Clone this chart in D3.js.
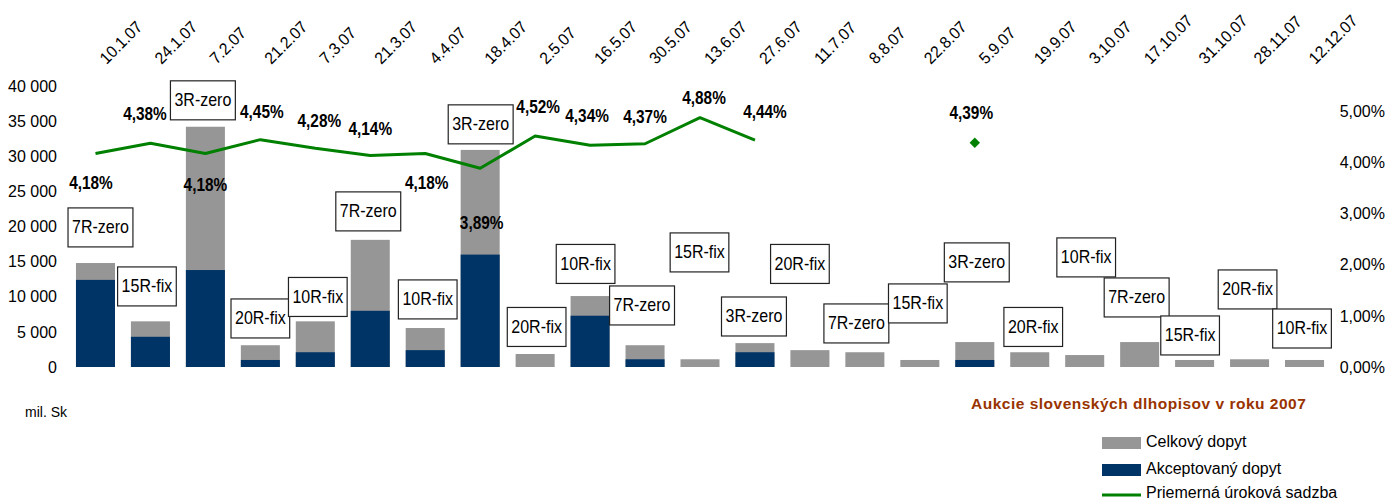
<!DOCTYPE html>
<html>
<head>
<meta charset="utf-8">
<script src="https://cdn.jsdelivr.net/npm/d3@7"></script>
<style>
  body { margin: 0; background: #fff; }
  svg text { font-family: "Liberation Sans", Arial, sans-serif; }
</style>
</head>
<body>
<svg id="chart" width="1390" height="501"></svg>
<script>
// DATA
const dates = ["10.1.07","24.1.07","7.2.07","21.2.07","7.3.07","21.3.07","4.4.07","18.4.07",
  "2.5.07","16.5.07","30.5.07","13.6.07","27.6.07","11.7.07","8.8.07","22.8.07","5.9.07",
  "19.9.07","3.10.07","17.10.07","31.10.07","28.11.07","12.12.07"];
const totalDemand = [14800, 6500, 34200, 3100, 6500, 18100, 5550, 30900, 1850, 10100, 3100, 1100,
  3400, 2400, 2100, 1000, 3550, 2100, 1700, 3550, 1000, 1100, 1000];
const acceptedDemand = [12400, 4300, 13800, 1000, 2100, 8000, 2400, 16000, 0, 7300, 1100, 0,
  2100, 0, 0, 0, 1000, 0, 0, 0, 0, 0, 0];
const avgRate = [4.18, 4.38, 4.18, 4.45, 4.28, 4.14, 4.18, 3.89, 4.52, 4.34, 4.37, 4.88, 4.44,
  null, null, null, 4.39, null, null, null, null, null, null];
const bondType = ["7R-zero","15R-fix","3R-zero","20R-fix","10R-fix","7R-zero","10R-fix","3R-zero",
  "20R-fix","10R-fix","7R-zero","15R-fix","3R-zero","20R-fix","7R-zero","15R-fix","3R-zero",
  "20R-fix","10R-fix","7R-zero","15R-fix","20R-fix","10R-fix"];
const leftTicks = [0, 5000, 10000, 15000, 20000, 25000, 30000, 35000, 40000];
const rightTicks = [0, 1, 2, 3, 4, 5];
const seriesNames = ["Celkový dopyt", "Akceptovaný dopyt", "Priemerná úroková sadzba"];
const title = "Aukcie slovenských dlhopisov v roku 2007";
const unitLabel = "mil. Sk";

// label placement (annotation layout, not data)
const boxLevel = [19870, 11470, 37960, 6910, 9970, 22150, 9620, 34540, 5700, 14670, 8760, 16310,
  7190, 14670, 6200, 9050, 14890, 5700, 15600, 9900, 4490, 11040, 5480]; // box centre, in mil. Sk
const boxShift = [5, -3.5, -2.5, 0, 2.5, -2, 2.5, 0.5, 1.5, -4.5, -3, -0.5, -1, -10, -8.5, -2, 2,
  3.5, 1.5, -3, -4.5, -2, -2.5];
const rateLabelShift = [[-4.5, 29], [-5.5, -30], [0, 31], [1.5, -28.5], [4, -28], [0, -27], [1.5, 29],
  [1.5, 54], [3, -29], [-3, -30], [0, -27.5], [4, -20], [10, -28.5], null, null, null, [-3.5, -30]];

const colors = { total: "#969696", accepted: "#003366", rate: "#008000", title: "#993300" };

const svg = d3.select("#chart");
const plot = { left: 68, right: 1332, top: 86, bottom: 367 };

const x = d3.scaleBand()
  .domain(dates)
  .range([plot.left, plot.right])
  .paddingInner(0.29)
  .paddingOuter(0.145);

const y = d3.scaleLinear().domain([0, 40000]).range([plot.bottom, plot.top]);
const y2 = d3.scaleLinear().domain([0, 5.5]).range([plot.bottom, plot.top]);

const fmtThousands = d3.formatLocale({ decimal: ",", thousands: " ", grouping: [3], currency: ["", ""] }).format(",d");
const fmtPct = v => d3.format(".2f")(v).replace(".", ",") + "%";

// left axis
const yAxis = svg.append("g")
  .attr("transform", `translate(${plot.left - 11},0)`)
  .call(d3.axisLeft(y).tickValues(leftTicks).tickFormat(fmtThousands).tickSize(0).tickPadding(0));
yAxis.select(".domain").remove();
yAxis.selectAll("text").attr("font-size", "16px").attr("fill", "#000")
  .style("font-family", '"Liberation Sans", Arial, sans-serif');

// right axis
const y2Axis = svg.append("g")
  .attr("transform", "translate(1385,0)")
  .call(d3.axisLeft(y2).tickValues(rightTicks).tickFormat(fmtPct).tickSize(0).tickPadding(0));
y2Axis.select(".domain").remove();
y2Axis.selectAll("text").attr("font-size", "16px").attr("fill", "#000")
  .style("font-family", '"Liberation Sans", Arial, sans-serif');

// category labels on top, rotated
svg.append("g").selectAll("text")
  .data(dates)
  .enter().append("text")
  .attr("transform", d => `translate(${x(d) + x.bandwidth() / 2 + 11},65) rotate(-45) scale(0.95,1)`)
  .attr("font-size", "16.5px")
  .attr("fill", "#000")
  .text(d => d);

// bars
const bars = svg.append("g");
bars.selectAll(".total")
  .data(dates)
  .enter().append("rect")
  .attr("class", "total")
  .attr("x", d => x(d))
  .attr("width", x.bandwidth())
  .attr("y", (d, i) => y(totalDemand[i]))
  .attr("height", (d, i) => y(0) - y(totalDemand[i]))
  .attr("fill", colors.total);
bars.selectAll(".accepted")
  .data(dates)
  .enter().append("rect")
  .attr("class", "accepted")
  .attr("x", d => x(d))
  .attr("width", x.bandwidth())
  .attr("y", (d, i) => y(acceptedDemand[i]))
  .attr("height", (d, i) => y(0) - y(acceptedDemand[i]))
  .attr("fill", colors.accepted);

// rate line
const cx = i => x(dates[i]) + x.bandwidth() / 2;
const line = d3.line()
  .defined(d => d != null)
  .x((d, i) => cx(i))
  .y(d => y2(d));
svg.append("path")
  .datum(avgRate)
  .attr("d", line)
  .attr("fill", "none")
  .attr("stroke", colors.rate)
  .attr("stroke-width", 3)
  .attr("stroke-linejoin", "round");

// isolated points get a diamond marker
const lonely = avgRate.map((v, i) => ({ v, i }))
  .filter(d => d.v != null && avgRate[d.i - 1] == null && avgRate[d.i + 1] == null);
svg.append("g").selectAll("path")
  .data(lonely)
  .enter().append("path")
  .attr("transform", d => `translate(${cx(d.i)},${y2(d.v)})`)
  .attr("d", d3.symbol().type(d3.symbolDiamond2).size(70))
  .attr("fill", colors.rate);

// bond type boxes
const boxes = svg.append("g").selectAll("g")
  .data(bondType)
  .enter().append("g")
  .attr("transform", (d, i) => `translate(${cx(i) + boxShift[i]},${y(boxLevel[i])})`);
boxes.append("rect").attr("class", "box");
boxes.append("text")
  .attr("text-anchor", "middle")
  .attr("dominant-baseline", "central")
  .attr("font-size", "18px")
  .attr("transform", "scale(0.89,1)")
  .attr("fill", "#000")
  .text(d => d);
boxes.each(function() {
  const g = d3.select(this);
  const w = g.select("text").node().getComputedTextLength() * 0.89 + 8;
  g.select("rect")
    .attr("x", -w / 2).attr("y", -19.5)
    .attr("width", w).attr("height", 39)
    .attr("fill", "#fff").attr("stroke", "#222").attr("stroke-width", 1.2);
});

// rate labels
svg.append("g").selectAll("text")
  .data(avgRate.map((v, i) => ({ v, i })).filter(d => d.v != null))
  .enter().append("text")
  .attr("transform", d => `translate(${cx(d.i) + rateLabelShift[d.i][0]},${y2(d.v) + rateLabelShift[d.i][1]}) scale(0.88,1)`)
  .attr("text-anchor", "middle")
  .attr("dominant-baseline", "central")
  .attr("font-size", "17.5px")
  .attr("font-weight", "bold")
  .attr("fill", "#000")
  .text(d => fmtPct(d.v));

// unit + title
svg.append("text").attr("x", 25).attr("y", 417).attr("font-size", "14px").text(unitLabel);
svg.append("text").attr("x", 971).attr("y", 409)
  .attr("font-size", "15.5px").attr("font-weight", "bold")
  .attr("letter-spacing", "0.5px")
  .attr("fill", colors.title).text(title);

// legend
const legend = svg.append("g");
const legendY = [447, 474, 498];
seriesNames.forEach((name, i) => {
  if (i < 2) {
    legend.append("rect").attr("x", 1102).attr("y", legendY[i] - 10).attr("width", 39).attr("height", 12)
      .attr("fill", i === 0 ? colors.total : colors.accepted);
  } else {
    legend.append("line").attr("x1", 1102).attr("x2", 1141).attr("y1", legendY[i] - 3).attr("y2", legendY[i] - 3)
      .attr("stroke", colors.rate).attr("stroke-width", 3);
  }
  legend.append("text").attr("x", 1146).attr("y", legendY[i]).attr("font-size", "16px").text(name);
});
</script>
</body>
</html>
